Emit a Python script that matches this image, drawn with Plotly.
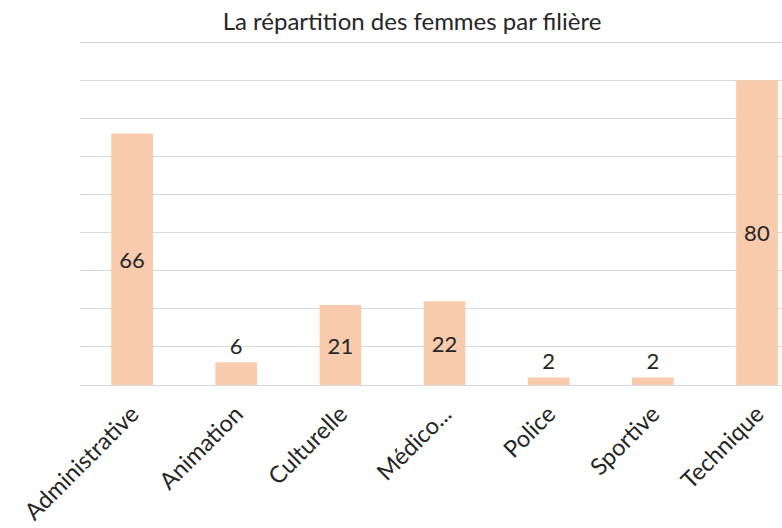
import plotly.graph_objects as go

categories = ["Administrative", "Animation", "Culturelle", "Médico...", "Police", "Sportive", "Technique"]
values = [66, 6, 21, 22, 2, 2, 80]
title_text = "La répartition des femmes par filière"

FONT = "Lato, 'Open Sans', sans-serif"

# small bars get their label just above the bar
positions = ["inside" if v >= 10 else "outside" for v in values]

fig = go.Figure(
    go.Bar(
        x=categories,
        y=values,
        width=0.4,
        marker=dict(color="#F8CBAD", line=dict(width=0)),
        text=[str(v) for v in values],
        textposition=positions,
        insidetextanchor="middle",
        textangle=0,
        textfont=dict(family=FONT, size=22, color="#262626"),
        cliponaxis=False,
        hoverinfo="skip",
    )
)

fig.update_layout(
    width=782,
    height=528,
    margin=dict(l=80, r=0, t=41, b=143, autoexpand=False),
    paper_bgcolor="white",
    plot_bgcolor="white",
    showlegend=False,
    title=dict(
        text=title_text,
        x=412 / 782,
        xanchor="center",
        y=1 - 22 / 528,
        yanchor="middle",
        font=dict(family=FONT, size=24, color="#262626"),
    ),
    xaxis=dict(
        type="category",
        range=[-0.5, 6.24],
        tickangle=-45,
        tickfont=dict(family=FONT, size=23.5, color="#262626"),
        ticklabelstandoff=5,
        automargin=False,
        showgrid=False,
        showline=True,
        linecolor="#D9D9D9",
        linewidth=1,
        ticks="",
        zeroline=False,
    ),
    yaxis=dict(
        range=[0, 90.3],
        dtick=10,
        showticklabels=False,
        showgrid=True,
        gridcolor="#D9D9D9",
        gridwidth=1,
        zeroline=False,
        ticks="",
        automargin=False,
    ),
)

fig.write_html(
    "out.html",
    config={"displayModeBar": False},
    post_script="document.body.style.margin='0';document.body.style.overflow='hidden';",
)
